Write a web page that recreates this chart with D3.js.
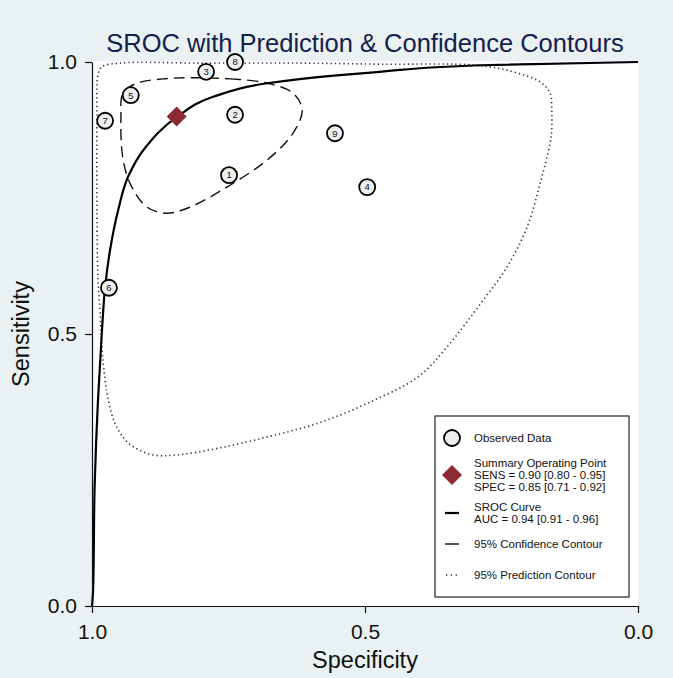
<!DOCTYPE html>
<html>
<head>
<meta charset="utf-8">
<script src="https://d3js.org/d3.v7.min.js"></script>
<style>
  body { margin: 0; background: #e9f1f3; }
  svg { display: block; font-family: "Liberation Sans", Arial, sans-serif; }
</style>
</head>
<body>
<div id="chart"></div>
<script>
// observed studies
const studyIds  = [1, 2, 3, 4, 5, 6, 7, 8, 9];
const studySpec = [0.749, 0.738, 0.791, 0.496, 0.929, 0.969, 0.976, 0.738, 0.555];
const studySens = [0.792, 0.903, 0.982, 0.770, 0.939, 0.585, 0.892, 1.000, 0.869];

// summary operating point
const summarySpec = [0.845];
const summarySens = [0.900];

// SROC curve
const srocSpec = [1.000, 0.998, 0.995, 0.989, 0.982, 0.976, 0.967, 0.952, 0.934, 0.903, 0.844, 0.778, 0.679, 0.546, 0.473, 0.289, 0.000];
const srocSens = [0.000, 0.029, 0.226, 0.379, 0.502, 0.586, 0.654, 0.728, 0.789, 0.842, 0.899, 0.936, 0.961, 0.976, 0.982, 0.994, 1.000];

// 95% confidence contour
const confSpec = [0.821, 0.747, 0.679, 0.632, 0.615, 0.632, 0.679, 0.753, 0.821, 0.863, 0.899, 0.927, 0.943, 0.947, 0.943, 0.918, 0.870];
const confSens = [0.971, 0.969, 0.961, 0.943, 0.912, 0.869, 0.820, 0.770, 0.733, 0.722, 0.733, 0.770, 0.820, 0.899, 0.943, 0.961, 0.969];

// 95% prediction contour
const predSpec = [0.982, 0.949, 0.802, 0.619, 0.473, 0.295, 0.229, 0.179, 0.161, 0.158, 0.158, 0.161, 0.179, 0.203, 0.240, 0.286, 0.350, 0.403, 0.495, 0.586, 0.678, 0.769, 0.842, 0.890, 0.934, 0.958, 0.971, 0.976, 0.982, 0.985, 0.989, 0.991, 0.991, 0.989];
const predSens = [0.991, 0.998, 0.998, 0.998, 0.996, 0.994, 0.982, 0.963, 0.943, 0.912, 0.875, 0.851, 0.778, 0.697, 0.623, 0.559, 0.476, 0.421, 0.373, 0.336, 0.311, 0.290, 0.278, 0.278, 0.300, 0.336, 0.384, 0.415, 0.476, 0.539, 0.599, 0.746, 0.893, 0.976];

const tickVals = [0, 0.5, 1];

const legendLabels = [
  ["Observed Data"],
  ["Summary Operating Point", "SENS = 0.90 [0.80 - 0.95]", "SPEC = 0.85 [0.71 - 0.92]"],
  ["SROC Curve", "AUC = 0.94 [0.91 - 0.96]"],
  ["95% Confidence Contour"],
  ["95% Prediction Contour"]
];

const width = 673, height = 678;
const plotLeft = 92, plotRight = 638, plotTop = 62, plotBottom = 606;

const svg = d3.select("#chart").append("svg")
  .attr("width", width)
  .attr("height", height);

svg.append("rect").attr("width", width).attr("height", height).attr("fill", "#e9f1f3");

const x = d3.scaleLinear().domain([1, 0]).range([plotLeft, plotRight]);
const y = d3.scaleLinear().domain([0, 1]).range([plotBottom, plotTop]);

// white plot region
svg.append("rect")
  .attr("x", plotLeft).attr("y", plotTop - 1)
  .attr("width", plotRight - plotLeft).attr("height", plotBottom - plotTop + 1)
  .attr("fill", "#ffffff");

const toPts = (a, b) => a.map((d, i) => [d, b[i]]);
const line = d3.line().x(d => x(d[0])).y(d => y(d[1]));

// prediction contour
svg.append("path")
  .attr("d", line.curve(d3.curveCatmullRomClosed)(toPts(predSpec, predSens)))
  .attr("fill", "none")
  .attr("stroke", "#333")
  .attr("stroke-width", 1.6)
  .attr("stroke-dasharray", "1.3,3");

// confidence contour
svg.append("path")
  .attr("d", line.curve(d3.curveCatmullRomClosed)(toPts(confSpec, confSens)))
  .attr("fill", "none")
  .attr("stroke", "#111")
  .attr("stroke-width", 1.4)
  .attr("stroke-dasharray", "11,6");

// SROC curve
svg.append("path")
  .attr("d", line.curve(d3.curveMonotoneY)(toPts(srocSpec, srocSens)))
  .attr("fill", "none")
  .attr("stroke", "#000")
  .attr("stroke-width", 2.2);

// study circles
const studies = svg.append("g").selectAll("g")
  .data(studyIds.map((id, i) => ({ id, spec: studySpec[i], sens: studySens[i] })))
  .join("g")
  .attr("transform", d => `translate(${x(d.spec)},${y(d.sens)})`);

studies.append("circle")
  .attr("r", 8)
  .attr("fill", "#eeeeee")
  .attr("stroke", "#000")
  .attr("stroke-width", 1.8);

studies.append("text")
  .attr("text-anchor", "middle")
  .attr("dy", "0.35em")
  .attr("font-size", 9.5)
  .attr("fill", "#111")
  .text(d => d.id);

// summary point
const diamond = d3.symbol().type(d3.symbolSquare).size(200);
svg.append("path")
  .attr("d", diamond())
  .attr("transform", `translate(${x(summarySpec[0])},${y(summarySens[0])}) rotate(45)`)
  .attr("fill", "#8b2c34");

// axes
const yAxis = svg.append("g")
  .attr("transform", `translate(${plotLeft},0)`)
  .call(d3.axisLeft(y).tickValues(tickVals).tickFormat(d3.format(".1f")).tickSize(7).tickSizeOuter(0).tickPadding(8));

const xAxis = svg.append("g")
  .attr("transform", `translate(0,${plotBottom})`)
  .call(d3.axisBottom(x).tickValues(tickVals).tickFormat(d3.format(".1f")).tickSize(7).tickSizeOuter(0).tickPadding(11));

[yAxis, xAxis].forEach(ax => {
  ax.selectAll("text").attr("font-size", 21).attr("font-family", "Liberation Sans, Arial, sans-serif").attr("fill", "#111");
  ax.selectAll("line, path").attr("stroke", "#111").attr("stroke-width", 1.2);
});

// title and axis titles
svg.append("text")
  .attr("x", 365).attr("y", 52)
  .attr("text-anchor", "middle")
  .attr("font-size", 25.5)
  .attr("fill", "#15204d")
  .text("SROC with Prediction & Confidence Contours");

svg.append("text")
  .attr("x", 365).attr("y", 668)
  .attr("text-anchor", "middle")
  .attr("font-size", 23.5)
  .attr("fill", "#111")
  .text("Specificity");

svg.append("text")
  .attr("transform", "translate(29,334) rotate(-90)")
  .attr("text-anchor", "middle")
  .attr("font-size", 23.5)
  .attr("fill", "#111")
  .text("Sensitivity");

// legend
const lg = svg.append("g");
lg.append("rect")
  .attr("x", 435).attr("y", 416)
  .attr("width", 194).attr("height", 181)
  .attr("fill", "#fff")
  .attr("stroke", "#222")
  .attr("stroke-width", 1.2);

const keyX = 452, textX = 474;
const rowY = [438, 475, 513, 544, 575];

lg.append("circle").attr("cx", keyX).attr("cy", rowY[0]).attr("r", 8)
  .attr("fill", "#eeeeee").attr("stroke", "#000").attr("stroke-width", 1.8);
lg.append("path").attr("d", diamond())
  .attr("transform", `translate(${keyX},${rowY[1]}) rotate(45)`)
  .attr("fill", "#8b2c34");
lg.append("line").attr("x1", keyX - 7).attr("x2", keyX + 7).attr("y1", rowY[2]).attr("y2", rowY[2])
  .attr("stroke", "#000").attr("stroke-width", 2.2);
lg.append("line").attr("x1", keyX - 7).attr("x2", keyX + 7).attr("y1", rowY[3]).attr("y2", rowY[3])
  .attr("stroke", "#111").attr("stroke-width", 1.4);
lg.append("line").attr("x1", keyX - 6).attr("x2", keyX + 7).attr("y1", rowY[4]).attr("y2", rowY[4])
  .attr("stroke", "#333").attr("stroke-width", 1.6).attr("stroke-dasharray", "1.3,3.5");

legendLabels.forEach((lines, i) => {
  const n = lines.length;
  lines.forEach((t, j) => {
    lg.append("text")
      .attr("x", textX)
      .attr("y", rowY[i] + (j - (n - 1) / 2) * 12)
      .attr("dy", "0.35em")
      .attr("font-size", 11.5)
      .attr("fill", "#111")
      .text(t);
  });
});
</script>
</body>
</html>
